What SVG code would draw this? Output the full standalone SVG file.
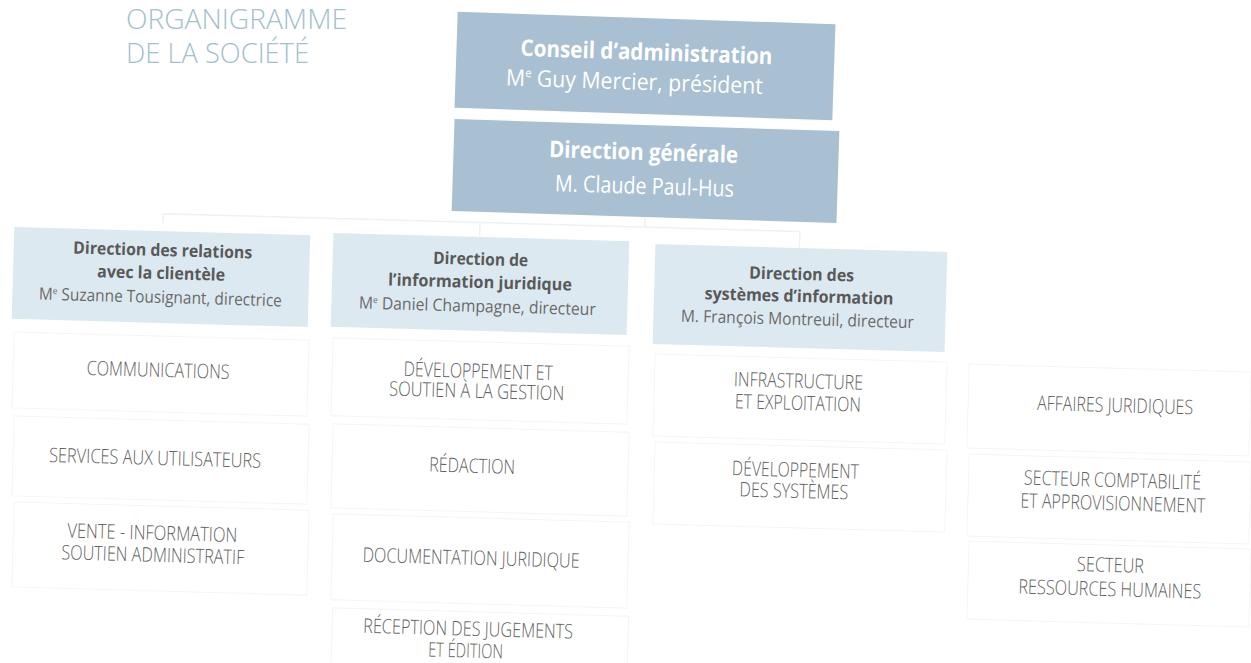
<svg xmlns="http://www.w3.org/2000/svg" width="1251" height="663" viewBox="0 0 1251 663">
<style>
text{font-family:"Open Sans","Liberation Sans",sans-serif;text-anchor:middle}
.title{font-size:27px;font-weight:300;fill:#a2c1cc;text-anchor:start}
.topbox{fill:#a9c0d2}
.tb{font-size:23px;font-weight:700;fill:#ffffff}
.tr{font-size:23px;fill:#ffffff}
.dirbox{fill:#dde9f0}
.db{font-size:17px;font-weight:700;fill:#595959}
.dr{font-size:17px;fill:#6a6a6a}
.subbox{fill:#ffffff;stroke:#f5f5f5;stroke-width:1}
.st{font-size:20px;font-weight:300;fill:#606060}
.conn{fill:none;stroke:#eef2f4;stroke-width:1.5}
</style>
<rect width="1251" height="663" fill="#ffffff"/>

<g id="title">
<text class="title" x="126" y="29" textLength="221" lengthAdjust="spacingAndGlyphs">ORGANIGRAMME</text>
<text class="title" x="126" y="63" textLength="183" lengthAdjust="spacingAndGlyphs">DE LA SOCIÉTÉ</text>
</g>

<g id="connectors" transform="rotate(1.6 480 222)">
<path class="conn" d="M163 222.5H800M163 222.5V232M480 222.5V236M800 222.5V246M645 213V222.5"/>
</g>

<g id="conseil" transform="rotate(1.9 645 66)">
<rect class="topbox" x="456" y="18" width="378" height="96"/>
<text class="tb" x="646" y="60" textLength="252" lengthAdjust="spacingAndGlyphs">Conseil d’administration</text>
<text class="tr" x="635" y="90" textLength="257" lengthAdjust="spacingAndGlyphs">M<tspan font-size="12" dy="-9">e</tspan><tspan dy="9"> Guy Mercier, président</tspan></text>
</g>

<g id="direction-generale" transform="rotate(1.8 645 171)">
<rect class="topbox" x="453" y="125" width="385" height="92"/>
<text class="tb" x="643" y="160" textLength="189" lengthAdjust="spacingAndGlyphs">Direction générale</text>
<text class="tr" x="645" y="194" textLength="179" lengthAdjust="spacingAndGlyphs">M. Claude Paul-Hus</text>
</g>

<g id="dir-relations" transform="rotate(1.6 161 277)">
<rect class="dirbox" x="13" y="231" width="296" height="92"/>
<text class="db" x="162" y="256" textLength="179" lengthAdjust="spacingAndGlyphs">Direction des relations</text>
<text class="db" x="161" y="279" textLength="128" lengthAdjust="spacingAndGlyphs">avec la clientèle</text>
<text class="dr" x="161" y="303" textLength="243" lengthAdjust="spacingAndGlyphs">M<tspan font-size="9" dy="-6">e</tspan><tspan dy="6"> Suzanne Tousignant, directrice</tspan></text>
</g>

<g id="dir-information-juridique" transform="rotate(1.6 480 284)">
<rect class="dirbox" x="332" y="237" width="296" height="94"/>
<text class="db" x="480" y="265" textLength="95" lengthAdjust="spacingAndGlyphs">Direction de</text>
<text class="db" x="480" y="288" textLength="184" lengthAdjust="spacingAndGlyphs">l’information juridique</text>
<text class="dr" x="478" y="312" textLength="237" lengthAdjust="spacingAndGlyphs">M<tspan font-size="9" dy="-6">e</tspan><tspan dy="6"> Daniel Champagne, directeur</tspan></text>
</g>

<g id="dir-systemes" transform="rotate(1.6 800 298)">
<rect class="dirbox" x="654" y="248" width="292" height="100"/>
<text class="db" x="801" y="280" textLength="105" lengthAdjust="spacingAndGlyphs">Direction des</text>
<text class="db" x="799" y="302" textLength="189" lengthAdjust="spacingAndGlyphs">systèmes d’information</text>
<text class="dr" x="798" y="325" textLength="233" lengthAdjust="spacingAndGlyphs">M. François Montreuil, directeur</text>
</g>

<g id="communications" transform="rotate(1.6 160 374)">
<rect class="subbox" x="13" y="336" width="295" height="76"/>
<text class="st" x="158" y="377" textLength="143" lengthAdjust="spacingAndGlyphs">COMMUNICATIONS</text>
</g>
<g id="services-utilisateurs" transform="rotate(1.6 160 460)">
<rect class="subbox" x="13" y="420" width="295" height="80"/>
<text class="st" x="155" y="465" textLength="212" lengthAdjust="spacingAndGlyphs">SERVICES AUX UTILISATEURS</text>
</g>
<g id="vente-information" transform="rotate(1.6 160 548)">
<rect class="subbox" x="13" y="506" width="295" height="85"/>
<text class="st" x="152" y="540" textLength="170" lengthAdjust="spacingAndGlyphs">VENTE - INFORMATION</text>
<text class="st" x="153" y="562" textLength="183" lengthAdjust="spacingAndGlyphs">SOUTIEN ADMINISTRATIF</text>
</g>

<g id="developpement-soutien" transform="rotate(1.6 480 381)">
<rect class="subbox" x="332" y="342" width="296" height="78"/>
<text class="st" x="478" y="378" textLength="149" lengthAdjust="spacingAndGlyphs">DÉVELOPPEMENT ET</text>
<text class="st" x="477" y="398" textLength="175" lengthAdjust="spacingAndGlyphs">SOUTIEN À LA GESTION</text>
</g>
<g id="redaction" transform="rotate(1.6 480 470)">
<rect class="subbox" x="332" y="428" width="296" height="84"/>
<text class="st" x="472" y="473" textLength="86" lengthAdjust="spacingAndGlyphs">RÉDACTION</text>
</g>
<g id="documentation" transform="rotate(1.6 480 561)">
<rect class="subbox" x="332" y="518" width="296" height="86"/>
<text class="st" x="471" y="565" textLength="217" lengthAdjust="spacingAndGlyphs">DOCUMENTATION JURIDIQUE</text>
</g>
<g id="reception" transform="rotate(1.6 480 635)">
<rect class="subbox" x="332" y="612" width="296" height="60"/>
<text class="st" x="468" y="636" textLength="210" lengthAdjust="spacingAndGlyphs">RÉCEPTION DES JUGEMENTS</text>
<text class="st" x="466" y="658" textLength="75" lengthAdjust="spacingAndGlyphs">ET ÉDITION</text>
</g>

<g id="infrastructure" transform="rotate(1.6 800 399)">
<rect class="subbox" x="654" y="358" width="292" height="82"/>
<text class="st" x="798" y="388" textLength="129" lengthAdjust="spacingAndGlyphs">INFRASTRUCTURE</text>
<text class="st" x="798" y="410" textLength="126" lengthAdjust="spacingAndGlyphs">ET EXPLOITATION</text>
</g>
<g id="developpement-systemes" transform="rotate(1.6 800 486)">
<rect class="subbox" x="654" y="446" width="292" height="82"/>
<text class="st" x="795" y="477" textLength="127" lengthAdjust="spacingAndGlyphs">DÉVELOPPEMENT</text>
<text class="st" x="794" y="498" textLength="109" lengthAdjust="spacingAndGlyphs">DES SYSTÈMES</text>
</g>

<g id="affaires-juridiques" transform="rotate(1.6 1109 410)">
<rect class="subbox" x="968" y="368" width="282" height="84"/>
<text class="st" x="1115" y="412" textLength="156" lengthAdjust="spacingAndGlyphs">AFFAIRES JURIDIQUES</text>
</g>
<g id="comptabilite" transform="rotate(1.6 1109 499)">
<rect class="subbox" x="968" y="458" width="282" height="82"/>
<text class="st" x="1112" y="487" textLength="177" lengthAdjust="spacingAndGlyphs">SECTEUR COMPTABILITÉ</text>
<text class="st" x="1113" y="510" textLength="185" lengthAdjust="spacingAndGlyphs">ET APPROVISIONNEMENT</text>
</g>
<g id="ressources-humaines" transform="rotate(1.6 1109 583)">
<rect class="subbox" x="968" y="545" width="282" height="78"/>
<text class="st" x="1110" y="572" textLength="67" lengthAdjust="spacingAndGlyphs">SECTEUR</text>
<text class="st" x="1110" y="596" textLength="183" lengthAdjust="spacingAndGlyphs">RESSOURCES HUMAINES</text>
</g>
</svg>
